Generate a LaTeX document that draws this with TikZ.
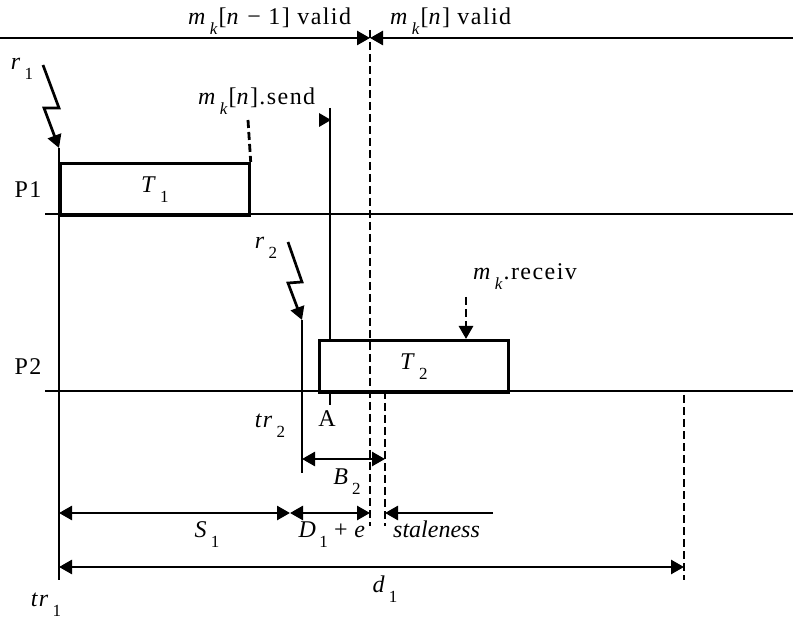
\documentclass[tikz,border=0pt]{standalone}
\usepackage{fontspec}
\setmainfont{Liberation Serif}[LetterSpace=6]
\usetikzlibrary{arrows.meta}
\newcommand\sbx[1]{\raisebox{-10pt}{\fontsize{17}{17}\selectfont\,#1}}
\begin{document}
\begin{tikzpicture}[x=1pt,y=-1pt,
  every node/.style={font=\fontsize{24}{26}\selectfont, inner sep=0pt},
  ln/.style={line width=2.7pt},
  dsh/.style={line width=2.8pt, dash pattern=on 8pt off 4pt},
  tip/.style={-{Triangle[length=13pt,width=14pt]}},
  tips/.style={{Triangle[length=13pt,width=14pt]}-{Triangle[length=13pt,width=14pt]}},
  box/.style={draw, line width=2.7pt, minimum width=189pt, minimum height=52pt, anchor=north west}]
\useasboundingbox (0,0) rectangle (793,620);
% top line with validity marks
\coordinate (topL) at (0,38);
\coordinate (topR) at (793,38);
\coordinate (valid) at (370,38);
\coordinate (vtop) at (370,30);
\coordinate (vbot) at (370,526);
\draw[dsh] (vtop) -- (vbot);
\draw[ln, tip] (topL) -- (valid);
\draw[ln, tip] (topR) -- (valid);
\node[anchor=base west] (l1) at (188,25) {\textit{m}\sbx{\textit{k}}[\textit{n} − 1] valid};
\node[anchor=base west] (l2) at (390,25) {\textit{m}\sbx{\textit{k}}[\textit{n}] valid};
% processor lines
\coordinate (p1a) at (45,214); \coordinate (p1b) at (793,214);
\coordinate (p2a) at (45,391); \coordinate (p2b) at (793,391);
\draw[ln] (p1a) -- (p1b);
\draw[ln] (p2a) -- (p2b);
\node[anchor=base] (P1) at (28,198) {P1};
\node[anchor=base] (P2) at (28,375) {P2};
% T1
\node[box] (T1) at (59,162) {\textit{T}\sbx{1}};
\coordinate (tr1top) at (59,148);
\coordinate (tr1bot) at (59,580);
\draw[ln] (tr1top) -- (tr1bot);
\coordinate (r1a) at (43,65); \coordinate (r1b) at (59,108); \coordinate (r1c) at (44,108);
\draw[ln, tip] (r1a) -- (r1b) -- (r1c) -- (tr1top);
\node[anchor=base] (r1) at (22,70) {\textit{r}\sbx{1}};
% send
\coordinate (sendtop) at (248,120);
\draw[dsh] (sendtop) -- (T1.north east);
\node[anchor=base west] (send) at (198,105) {\textit{m}\sbx{\textit{k}}[\textit{n}].send};
% T2
\node[box] (T2) at (318,339) {\textit{T}\sbx{2}};
\coordinate (sl) at (330,108);
\coordinate (slb) at (330,339);
\draw[ln] (sl) -- (slb);
\fill (319,113) -- (331,120) -- (319,127) -- cycle;
\coordinate (Aa) at (330,391); \coordinate (Ab) at (330,405);
\draw[ln] (Aa) -- (Ab);
\node[anchor=base] (A) at (327,427) {A};
% r2
\coordinate (r2a) at (288,242); \coordinate (r2b) at (302,282); \coordinate (r2c) at (288,283);
\coordinate (tr2top) at (302,320); \coordinate (tr2bot) at (302,473);
\draw[ln, tip] (r2a) -- (r2b) -- (r2c) -- (tr2top);
\draw[ln] (tr2top) -- (tr2bot);
\node[anchor=base] (r2) at (266,249) {\textit{r}\sbx{2}};
\node[anchor=base] (tr2) at (270,428) {\textit{tr}\sbx{2}};
% receive
\coordinate (rca) at (466,297); \coordinate (rcb) at (466,339);
\draw[dsh, tip] (rca) -- (rcb);
\node[anchor=base west] (recv) at (473,280) {\textit{m}\sbx{\textit{k}}.receiv};
% second dashed
\coordinate (d2a) at (385,391); \coordinate (d2b) at (385,526);
\draw[dsh] (d2a) -- (d2b);
% B2
\coordinate (b2a) at (302,459); \coordinate (b2b) at (385,459);
\draw[ln, tips] (b2a) -- (b2b);
\node[anchor=base] (B2) at (347,484) {\textit{B}\sbx{2}};
% S1 row
\coordinate (s1a) at (59,513); \coordinate (s1b) at (290,513);
\coordinate (dea) at (370,513); \coordinate (sta) at (385,513); \coordinate (stb) at (493,513);
\draw[ln, tips] (s1a) -- (s1b);
\draw[ln, tips] (s1b) -- (dea);
\draw[ln, tip] (stb) -- (sta);
\node[anchor=base] (S1) at (207,537) {\textit{S}\sbx{1}};
\node[anchor=base] (De) at (332,537) {\addfontfeature{LetterSpace=2}\textit{D}\sbx{1} + \textit{e}};
\node[anchor=base west] (st) at (393,537) {\addfontfeature{LetterSpace=0}\textit{staleness}};
% d1
\coordinate (d1a) at (59,567); \coordinate (d1b) at (684,567);
\coordinate (d1ta) at (684,395); \coordinate (d1tb) at (684,580);
\draw[dsh] (d1ta) -- (d1tb);
\draw[ln, tips] (d1a) -- (d1b);
\node[anchor=base] (d1) at (385,592) {\textit{d}\sbx{1}};
\node[anchor=base] (tr1) at (46,606) {\textit{tr}\sbx{1}};
\end{tikzpicture}
\end{document}
